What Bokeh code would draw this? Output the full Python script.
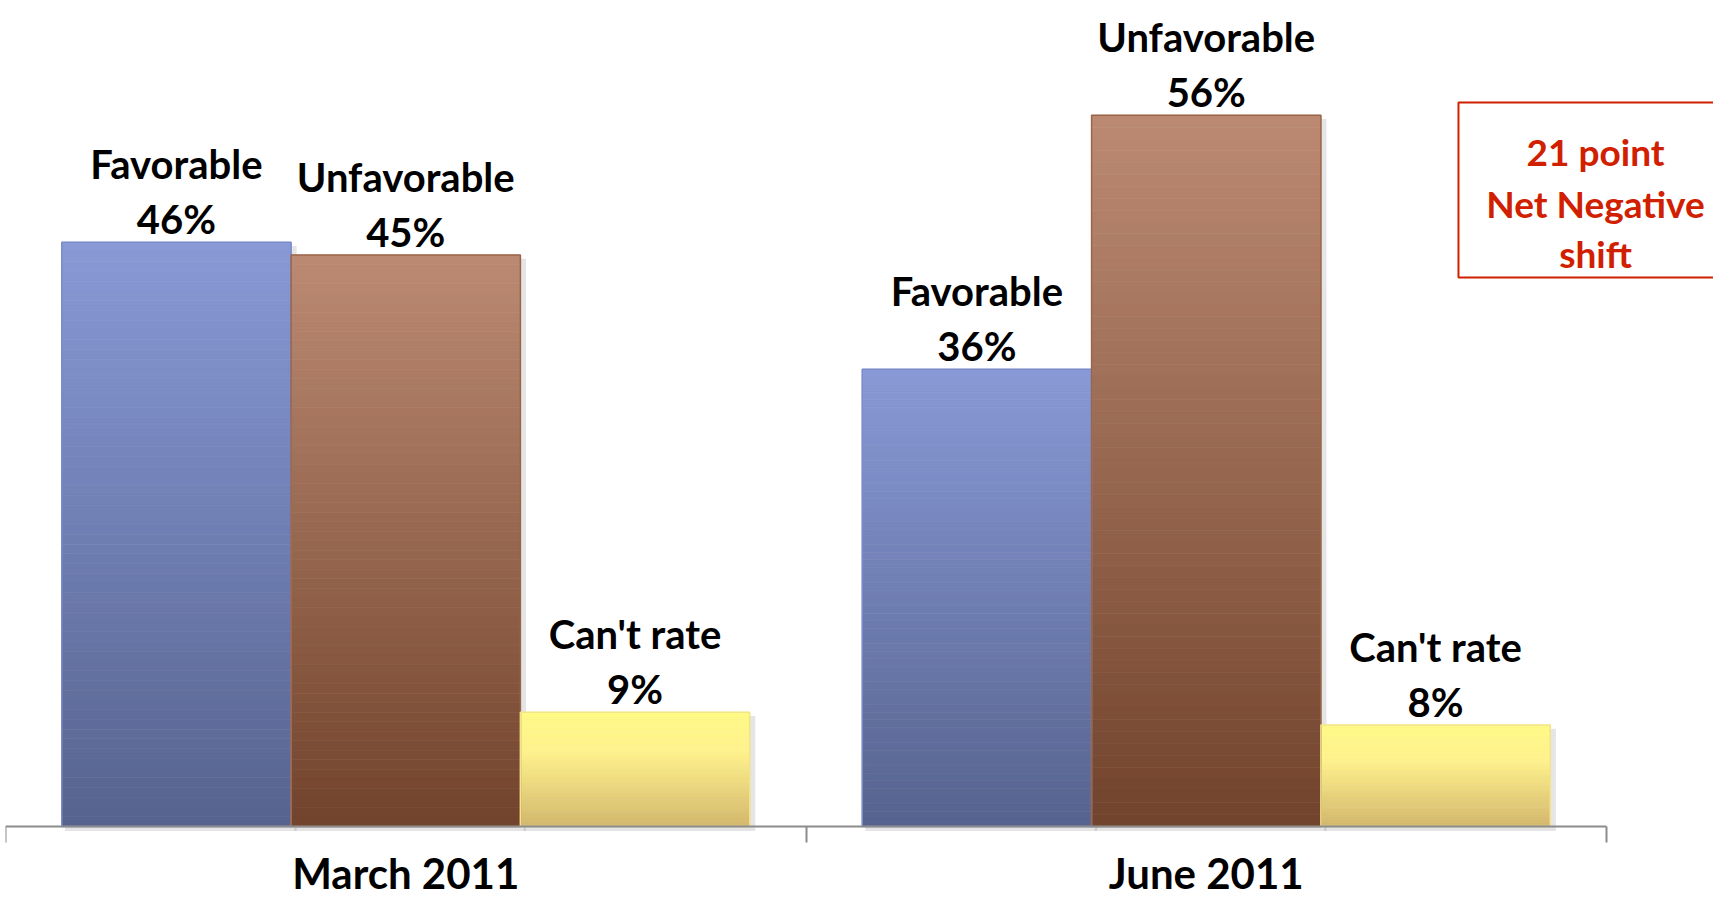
from bokeh.plotting import figure
from bokeh.models import Range1d, FixedTicker, Label, BoxAnnotation, ColumnDataSource
from bokeh.embed import file_html
from bokeh.resources import INLINE
from bokeh.core.properties import value

# ---- data ----
categories = ["March 2011", "June 2011"]
series = ["Favorable", "Unfavorable", "Can't rate"]
favorable = [46, 36]
unfavorable = [45, 56]
cant_rate = [9, 8]
callout_lines = ["21 point", "Net Negative", "shift"]

values_by_series = [favorable, unfavorable, cant_rate]

# ---- styling ----
gradients = [
    [(0.0, (136, 153, 214)), (1.0, (86, 99, 142))],
    [(0.0, (188, 138, 114)), (1.0, (114, 67, 44))],
    [(0.0, (255, 250, 134)), (0.35, (255, 242, 140)), (1.0, (211, 183, 108))],
]
borders = ["#7B8CC8", "#9C6549", "#F2E38C"]
RED = "#D02000"
FONT = "Lato"

W, H = 1713, 901
BAR_W = 0.2865
PX_PER_UNIT = 12.7           # vertical pixels per percentage point
BASE_PX = 826                # canvas row of the zero line
Y_TOP = BASE_PX / PX_PER_UNIT
Y_BOT = -(H - BASE_PX) / PX_PER_UNIT


def lerp_color(stops, t):
    for (t0, c0), (t1, c1) in zip(stops[:-1], stops[1:]):
        if t <= t1:
            f = (t - t0) / (t1 - t0) if t1 > t0 else 0
            return "#%02x%02x%02x" % tuple(int(round(a + (b - a) * f)) for a, b in zip(c0, c1))
    return "#%02x%02x%02x" % stops[-1][1]


p = figure(width=W, height=H, output_backend="svg", toolbar_location=None,
           x_range=Range1d(0, (W - 5) * 2 / 1601), y_range=Range1d(Y_BOT, Y_TOP),
           y_axis_location=None,
           min_border_left=5, min_border_right=0, min_border_top=0, min_border_bottom=0)
p.outline_line_color = None
p.grid.visible = False
p.background_fill_color = "white"
p.border_fill_color = "white"

# gradient bars as horizontal slices
N = 60
sl = dict(left=[], right=[], top=[], bottom=[], color=[])
sh = dict(left=[], right=[], top=[], bottom=[])
outl = dict(left=[], right=[], top=[], bottom=[], color=[])
lab = dict(x=[], y=[], name=[], pct=[])
for k, vals in enumerate(values_by_series):
    for i, v in enumerate(vals):
        cx = i + 0.5 + (k - 1) * BAR_W
        l, r = cx - BAR_W / 2, cx + BAR_W / 2
        for j in range(N):
            t0, t1 = j / N, (j + 1) / N
            sl["left"].append(l)
            sl["right"].append(r)
            sl["top"].append(v * (1 - t0))
            sl["bottom"].append(v * (1 - t1))
            sl["color"].append(lerp_color(gradients[k], (t0 + t1) / 2))
        sh["left"].append(l + 0.004)
        sh["right"].append(r + 0.007)
        sh["top"].append(v - 0.3)
        sh["bottom"].append(-0.35)
        outl["left"].append(l)
        outl["right"].append(r)
        outl["top"].append(v)
        outl["bottom"].append(0)
        outl["color"].append(borders[k])
        lab["x"].append(cx)
        lab["y"].append(v)
        lab["name"].append(series[k])
        lab["pct"].append(f"{v}%")

# soft shadow
p.quad(left="left", right="right", top="top", bottom="bottom", source=ColumnDataSource(sh),
       fill_color="#000000", fill_alpha=0.10, line_color=None)
p.quad(left="left", right="right", top="top", bottom="bottom", source=ColumnDataSource(sl),
       fill_color="color", line_color="color", line_width=0.6)
p.quad(left="left", right="right", top="top", bottom="bottom", source=ColumnDataSource(outl),
       fill_color=None, line_color="color", line_width=1.5)

lsrc = ColumnDataSource(lab)
common = dict(text_align="center", text_baseline="alphabetic", text_font=value(FONT),
              text_font_style="bold", text_font_size="40px", text_color="black")
p.text(x="x", y="y", text="name", y_offset=-78, source=lsrc, **common)
p.text(x="x", y="y", text="pct", y_offset=-23, source=lsrc, **common)

# axis (placed at y = 0 inside the frame)
ax = p.xaxis[0]
ax.fixed_location = 0
ax.ticker = FixedTicker(ticks=[i + 0.5 for i in range(len(categories))],
                        minor_ticks=list(range(len(categories) + 1)))
ax.major_label_overrides = {i + 0.5: c for i, c in enumerate(categories)}
ax.bounds = (0, len(categories))
ax.axis_line_color = "#8C8C8C"
ax.axis_line_width = 2
ax.major_tick_line_color = None
ax.major_tick_out = 0
ax.major_tick_in = 0
ax.minor_tick_line_color = "#8C8C8C"
ax.minor_tick_line_width = 2
ax.minor_tick_out = 16
ax.minor_tick_in = 0
ax.major_label_text_font = FONT
ax.major_label_text_font_style = "bold"
ax.major_label_text_font_size = "42px"
ax.major_label_text_color = "black"
ax.major_label_standoff = 5

# callout
p.add_layout(BoxAnnotation(left=1.8151, right=2.4, bottom=43.23, top=57.0,
                           fill_color="white", fill_alpha=1.0,
                           line_color=RED, line_alpha=1.0, line_width=2))
for txt, yy in zip(callout_lines, [53.15, 49.06, 45.12]):
    p.add_layout(Label(x=1.9863, y=yy, text=txt, text_align="center", text_baseline="alphabetic",
                       text_font=FONT, text_font_style="bold", text_font_size="37px",
                       text_color=RED))

open("out.html", "w").write(file_html(p, INLINE))
